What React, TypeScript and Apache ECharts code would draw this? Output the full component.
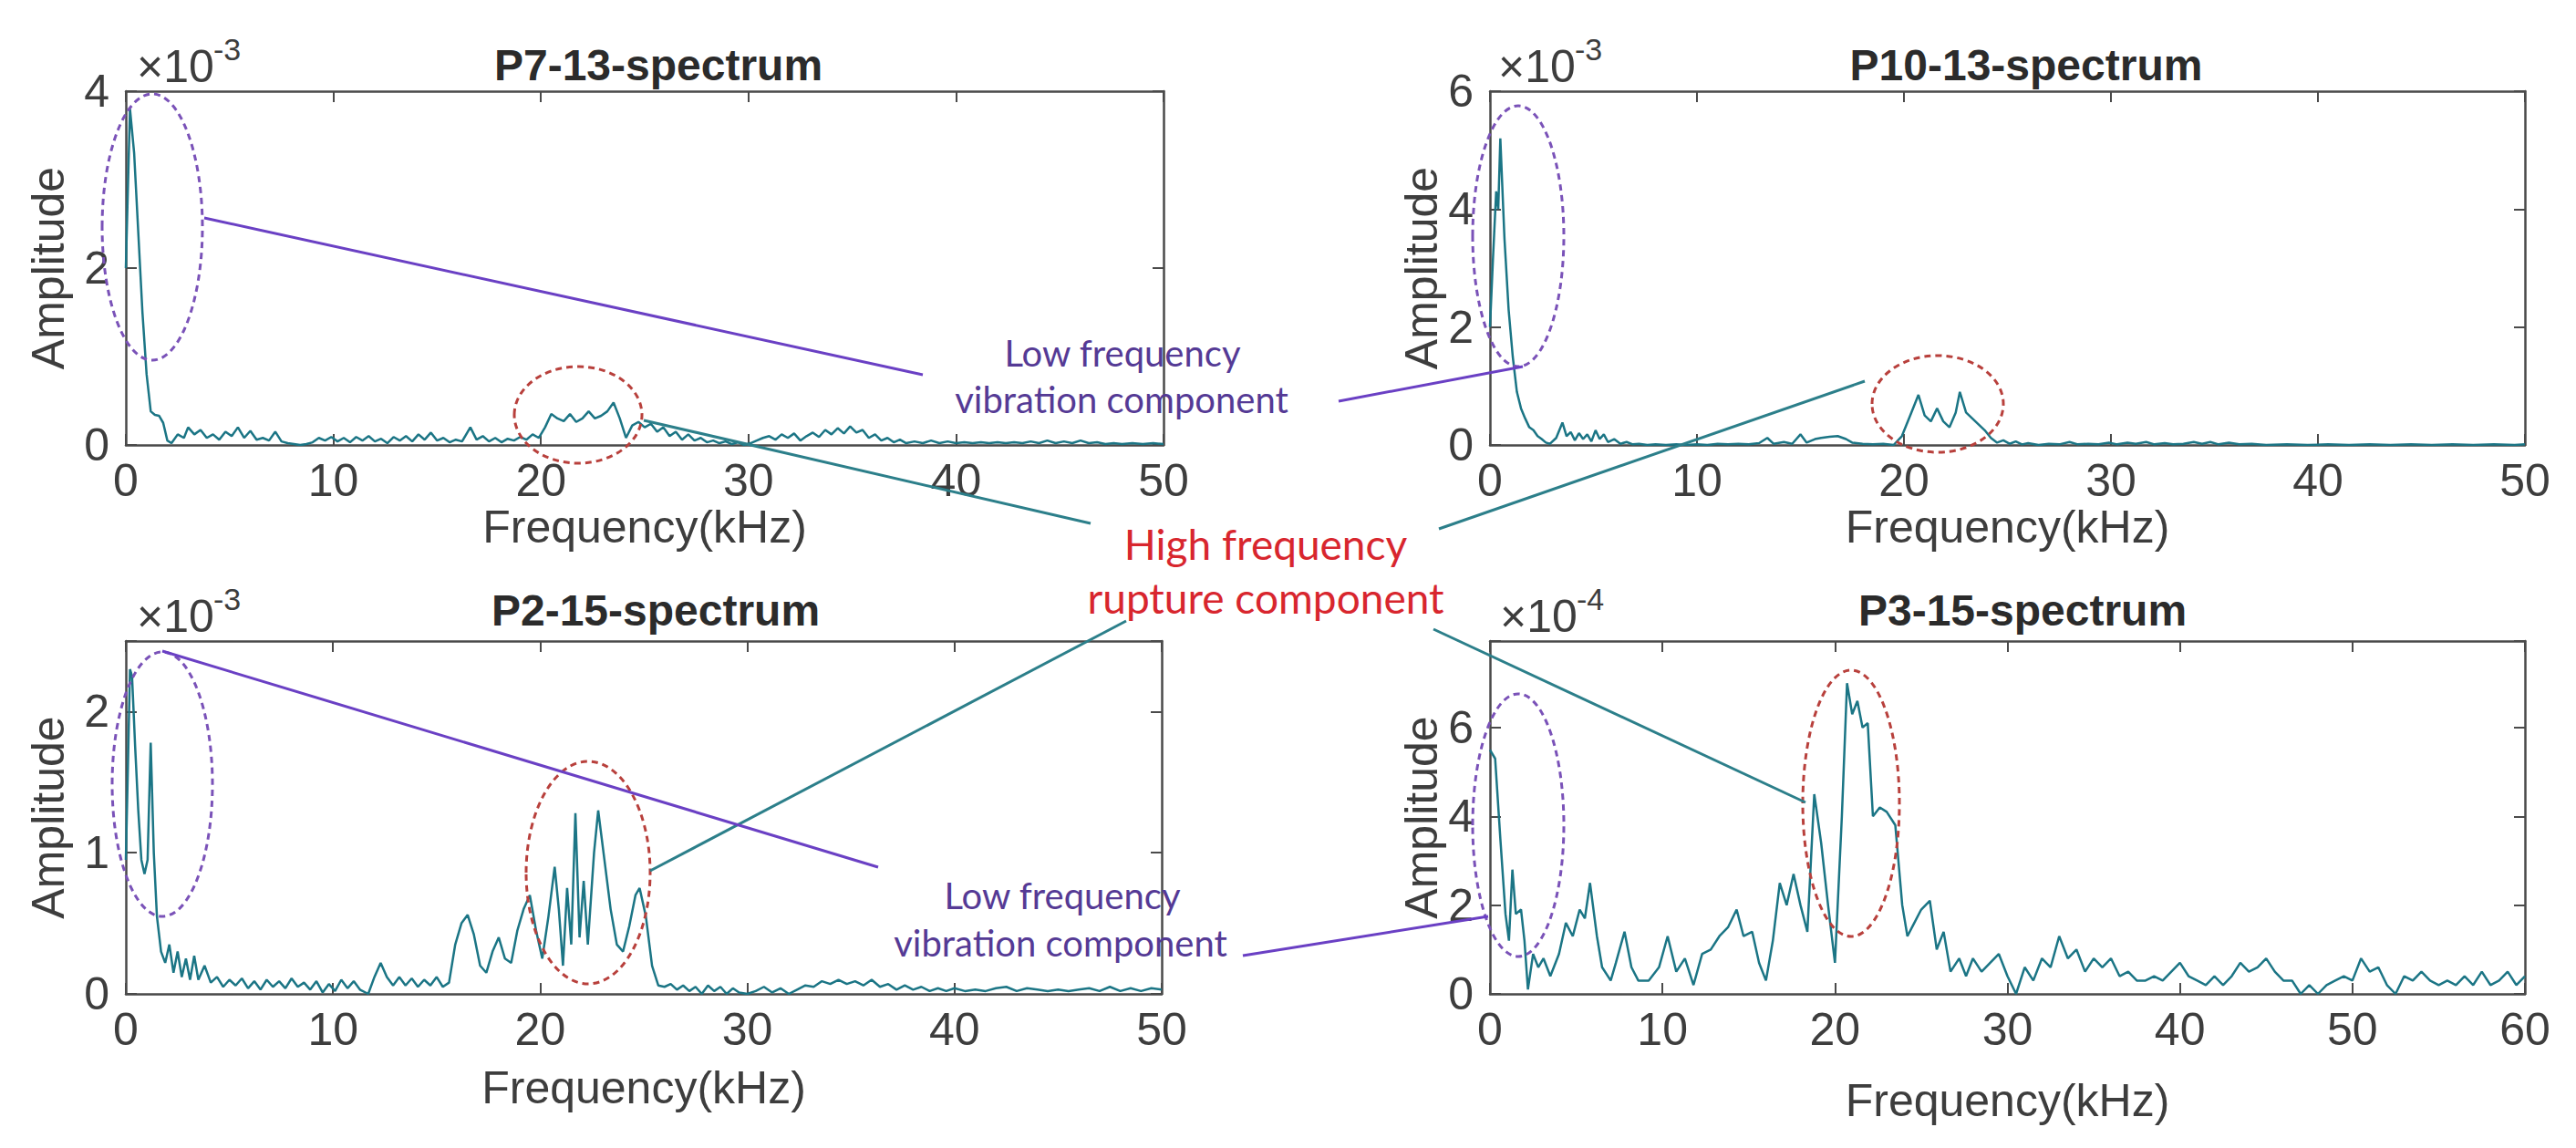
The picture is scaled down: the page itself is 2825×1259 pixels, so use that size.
import React, { useEffect, useRef } from "react";
import * as echarts from "echarts";

// ---------------- data (amplitude values, x = frequency in kHz) ----------------
const titles = ["P7-13-spectrum", "P10-13-spectrum", "P2-15-spectrum", "P3-15-spectrum"];
const exponents = ["-3", "-3", "-3", "-4"];
const xLabel = "Frequency(kHz)";
const yLabel = "Amplitude";
const xMaxes = [50, 50, 50, 60];
const yMaxes = [4, 6, 2.5, 7.95];
const yIntervals = [2, 2, 1, 2];
const lowText = ["Low frequency", "vibration component"];
const highText = ["High frequency", "rupture component"];

// P7-13 (x10^-3)
const p7_13: number[][] = [
  [0, 2.0], [0.2, 3.8], [0.4, 3.3], [0.6, 2.4], [0.8, 1.5], [1.0, 0.8], [1.2, 0.38], [1.4, 0.34], [1.6, 0.33], [1.8, 0.25],
  [2.0, 0.05], [2.2, 0.02], [2.5, 0.12], [2.8, 0.08], [3.0, 0.2], [3.3, 0.12], [3.6, 0.17], [3.9, 0.08], [4.2, 0.12], [4.5, 0.06],
  [4.8, 0.15], [5.1, 0.1], [5.4, 0.2], [5.7, 0.08], [6.0, 0.16], [6.3, 0.06], [6.6, 0.08], [6.9, 0.05], [7.2, 0.15], [7.5, 0.04],
  [7.8, 0.02], [8.1, 0.01], [8.4, 0.0], [8.7, 0.01], [9.0, 0.03], [9.3, 0.08], [9.6, 0.05], [9.9, 0.09], [10.2, 0.04], [10.5, 0.08],
  [10.8, 0.03], [11.1, 0.09], [11.4, 0.05], [11.7, 0.1], [12.0, 0.04], [12.3, 0.07], [12.6, 0.02], [12.9, 0.09], [13.2, 0.05], [13.5, 0.1],
  [13.8, 0.04], [14.1, 0.12], [14.4, 0.06], [14.7, 0.14], [15.0, 0.05], [15.3, 0.08], [15.6, 0.03], [15.9, 0.06], [16.2, 0.04], [16.6, 0.2],
  [16.9, 0.06], [17.2, 0.1], [17.5, 0.04], [17.8, 0.08], [18.1, 0.03], [18.4, 0.07], [18.7, 0.05], [19.0, 0.09], [19.3, 0.06], [19.6, 0.12],
  [19.9, 0.08], [20.2, 0.2], [20.5, 0.35], [20.8, 0.3], [21.1, 0.27], [21.4, 0.35], [21.7, 0.26], [22.0, 0.3], [22.3, 0.38], [22.6, 0.3],
  [22.9, 0.33], [23.2, 0.38], [23.5, 0.48], [23.8, 0.3], [24.1, 0.08], [24.4, 0.22], [24.7, 0.26], [25.0, 0.2], [25.3, 0.24], [25.6, 0.15],
  [25.9, 0.2], [26.2, 0.1], [26.5, 0.15], [26.8, 0.06], [27.1, 0.12], [27.4, 0.05], [27.7, 0.08], [28.0, 0.03], [28.3, 0.05], [28.6, 0.02],
  [28.9, 0.04], [29.2, 0.01], [29.5, 0.03], [29.8, 0.0], [30.1, 0.02], [30.4, 0.05], [30.7, 0.08], [31.0, 0.1], [31.3, 0.06], [31.6, 0.12],
  [31.9, 0.08], [32.2, 0.13], [32.5, 0.05], [32.8, 0.1], [33.1, 0.14], [33.4, 0.09], [33.7, 0.17], [34.0, 0.12], [34.3, 0.19], [34.6, 0.13],
  [34.9, 0.21], [35.2, 0.14], [35.5, 0.17], [35.8, 0.08], [36.1, 0.12], [36.4, 0.05], [36.7, 0.08], [37.0, 0.03], [37.3, 0.06], [37.6, 0.02],
  [38.0, 0.04], [38.4, 0.02], [38.8, 0.05], [39.2, 0.02], [39.6, 0.04], [40.0, 0.02], [40.4, 0.03], [40.8, 0.02], [41.2, 0.03], [41.6, 0.02],
  [42.0, 0.03], [42.4, 0.02], [42.8, 0.03], [43.2, 0.02], [43.6, 0.04], [44.0, 0.02], [44.4, 0.05], [44.8, 0.02], [45.2, 0.04], [45.6, 0.02],
  [46.0, 0.05], [46.4, 0.02], [46.8, 0.03], [47.2, 0.01], [47.6, 0.02], [48.0, 0.01], [48.5, 0.02], [49.0, 0.01], [49.5, 0.02], [50.0, 0.01],
];

// P10-13 (x10^-3)
const p10_13: number[][] = [
  [0, 2.0], [0.15, 3.2], [0.3, 4.3], [0.4, 4.0], [0.5, 5.2], [0.7, 3.5], [0.9, 2.3], [1.1, 1.5], [1.3, 0.9], [1.5, 0.62],
  [1.7, 0.45], [1.9, 0.3], [2.1, 0.25], [2.3, 0.15], [2.5, 0.1], [2.7, 0.04], [2.9, 0.02], [3.2, 0.12], [3.5, 0.38], [3.7, 0.15],
  [3.9, 0.22], [4.1, 0.08], [4.3, 0.2], [4.5, 0.1], [4.7, 0.18], [4.9, 0.06], [5.1, 0.25], [5.3, 0.1], [5.5, 0.18], [5.7, 0.05],
  [6.0, 0.1], [6.3, 0.02], [6.6, 0.05], [6.9, 0.01], [7.2, 0.02], [7.6, 0.0], [8.0, 0.01], [8.5, 0.0], [9.0, 0.01], [9.5, 0.0],
  [10.0, 0.01], [10.5, 0.0], [11.0, 0.02], [11.5, 0.01], [12.0, 0.02], [12.5, 0.01], [13.0, 0.03], [13.4, 0.12], [13.7, 0.02], [14.2, 0.05],
  [14.6, 0.02], [15.0, 0.18], [15.3, 0.04], [15.7, 0.1], [16.0, 0.12], [16.4, 0.14], [16.8, 0.15], [17.2, 0.1], [17.5, 0.04], [18.0, 0.02],
  [18.5, 0.01], [19.0, 0.02], [19.5, 0.0], [19.9, 0.15], [20.3, 0.5], [20.7, 0.85], [21.0, 0.5], [21.3, 0.4], [21.6, 0.62], [21.9, 0.4],
  [22.2, 0.3], [22.5, 0.55], [22.7, 0.9], [23.0, 0.55], [23.3, 0.45], [23.6, 0.35], [23.9, 0.25], [24.2, 0.12], [24.5, 0.04], [24.8, 0.08],
  [25.1, 0.02], [25.4, 0.06], [25.7, 0.01], [26.0, 0.03], [26.5, 0.0], [27.0, 0.02], [27.5, 0.01], [28.0, 0.05], [28.4, 0.01], [28.9, 0.02],
  [29.4, 0.01], [29.9, 0.04], [30.3, 0.01], [30.8, 0.04], [31.2, 0.02], [31.7, 0.05], [32.1, 0.01], [32.6, 0.03], [33.0, 0.01], [33.5, 0.02],
  [34.0, 0.05], [34.4, 0.02], [34.8, 0.05], [35.2, 0.01], [35.7, 0.04], [36.2, 0.01], [36.8, 0.02], [37.5, 0.0], [38.5, 0.01], [39.5, 0.0],
  [40.5, 0.01], [41.5, 0.0], [42.5, 0.01], [43.5, 0.0], [44.5, 0.01], [45.5, 0.0], [46.5, 0.01], [47.5, 0.0], [48.5, 0.01], [49.5, 0.0],
  [50.0, 0.01],
];

// P2-15 (x10^-3)
const p2_15: number[][] = [
  [0, 0.95], [0.1, 1.6], [0.2, 2.3], [0.3, 2.25], [0.45, 1.75], [0.6, 1.3], [0.75, 0.95], [0.9, 0.85], [1.05, 0.95], [1.2, 1.78],
  [1.35, 1.0], [1.5, 0.55], [1.7, 0.3], [1.9, 0.22], [2.1, 0.35], [2.3, 0.15], [2.5, 0.3], [2.7, 0.12], [2.9, 0.25], [3.1, 0.1],
  [3.3, 0.27], [3.5, 0.1], [3.8, 0.2], [4.1, 0.08], [4.4, 0.12], [4.7, 0.05], [5.0, 0.1], [5.3, 0.06], [5.6, 0.11], [5.9, 0.04],
  [6.2, 0.09], [6.5, 0.03], [6.8, 0.1], [7.1, 0.05], [7.4, 0.09], [7.7, 0.04], [8.0, 0.11], [8.3, 0.05], [8.6, 0.08], [8.9, 0.03],
  [9.2, 0.09], [9.5, 0.01], [9.8, 0.07], [10.1, 0.02], [10.4, 0.1], [10.7, 0.04], [11.0, 0.09], [11.3, 0.03], [11.7, 0.0], [12.0, 0.12],
  [12.3, 0.22], [12.6, 0.12], [12.9, 0.06], [13.2, 0.12], [13.5, 0.06], [13.8, 0.11], [14.1, 0.05], [14.4, 0.1], [14.7, 0.06], [15.0, 0.12],
  [15.3, 0.05], [15.6, 0.08], [15.9, 0.35], [16.2, 0.5], [16.5, 0.56], [16.8, 0.42], [17.1, 0.2], [17.4, 0.15], [17.7, 0.3], [18.0, 0.4],
  [18.3, 0.25], [18.6, 0.22], [18.9, 0.45], [19.2, 0.6], [19.5, 0.7], [19.8, 0.45], [20.1, 0.25], [20.4, 0.55], [20.7, 0.9], [20.9, 0.6],
  [21.1, 0.2], [21.3, 0.75], [21.5, 0.35], [21.7, 1.28], [21.9, 0.4], [22.1, 0.8], [22.3, 0.35], [22.6, 1.0], [22.8, 1.3], [23.1, 0.95],
  [23.4, 0.6], [23.7, 0.35], [24.0, 0.3], [24.3, 0.48], [24.6, 0.7], [24.8, 0.75], [25.1, 0.55], [25.4, 0.2], [25.7, 0.06], [26.0, 0.05],
  [26.3, 0.07], [26.6, 0.03], [26.9, 0.06], [27.2, 0.02], [27.5, 0.05], [27.8, 0.0], [28.1, 0.06], [28.4, 0.02], [28.7, 0.05], [29.0, 0.0],
  [29.3, 0.04], [29.6, 0.01], [30.0, 0.0], [30.4, 0.02], [30.8, 0.05], [31.2, 0.01], [31.6, 0.04], [32.0, 0.0], [32.4, 0.03], [32.8, 0.06],
  [33.2, 0.05], [33.6, 0.09], [34.0, 0.07], [34.4, 0.1], [34.8, 0.07], [35.2, 0.09], [35.6, 0.06], [36.0, 0.1], [36.4, 0.05], [36.8, 0.07],
  [37.2, 0.03], [37.6, 0.06], [38.0, 0.03], [38.4, 0.05], [38.8, 0.02], [39.2, 0.04], [39.6, 0.02], [40.0, 0.04], [40.5, 0.02], [41.0, 0.03],
  [41.5, 0.02], [42.0, 0.04], [42.5, 0.05], [43.0, 0.02], [43.5, 0.04], [44.0, 0.03], [44.5, 0.02], [45.0, 0.03], [45.5, 0.02], [46.0, 0.03],
  [46.5, 0.04], [47.0, 0.02], [47.5, 0.05], [48.0, 0.02], [48.5, 0.04], [49.0, 0.02], [49.5, 0.04], [50.0, 0.03],
];

// P3-15 (x10^-4)
const p3_15: number[][] = [
  [0, 5.5], [0.3, 5.3], [0.6, 3.5], [0.9, 1.8], [1.1, 1.2], [1.3, 2.8], [1.5, 1.8], [1.8, 1.9], [2.0, 1.2], [2.2, 0.1],
  [2.5, 0.9], [2.8, 0.6], [3.1, 0.8], [3.5, 0.4], [4.0, 0.9], [4.4, 1.6], [4.8, 1.3], [5.2, 1.9], [5.5, 1.7], [5.8, 2.5],
  [6.2, 1.3], [6.5, 0.6], [7.0, 0.3], [7.3, 0.7], [7.8, 1.4], [8.2, 0.6], [8.6, 0.3], [9.2, 0.3], [9.8, 0.6], [10.3, 1.3],
  [10.8, 0.5], [11.3, 0.8], [11.8, 0.2], [12.3, 0.9], [12.8, 1.0], [13.3, 1.3], [13.8, 1.5], [14.3, 1.9], [14.7, 1.3], [15.2, 1.4],
  [15.6, 0.7], [16.0, 0.3], [16.4, 1.2], [16.8, 2.5], [17.2, 2.0], [17.6, 2.7], [18.0, 2.0], [18.4, 1.4], [18.8, 4.5], [19.2, 3.4],
  [19.6, 2.0], [20.0, 0.7], [20.4, 4.0], [20.7, 7.0], [21.0, 6.3], [21.3, 6.6], [21.6, 6.0], [21.9, 6.1], [22.2, 4.0], [22.6, 4.2],
  [23.0, 4.1], [23.5, 3.8], [23.9, 2.0], [24.2, 1.3], [24.6, 1.6], [25.0, 1.9], [25.5, 2.1], [25.9, 1.0], [26.3, 1.4], [26.7, 0.5],
  [27.2, 0.8], [27.6, 0.4], [28.0, 0.8], [28.5, 0.5], [29.0, 0.7], [29.5, 0.9], [30.0, 0.4], [30.5, 0.0], [31.0, 0.6], [31.5, 0.3],
  [32.0, 0.8], [32.5, 0.6], [33.0, 1.3], [33.5, 0.8], [34.0, 1.0], [34.5, 0.5], [35.0, 0.8], [35.5, 0.6], [36.0, 0.8], [36.5, 0.4],
  [37.0, 0.5], [37.5, 0.3], [38.0, 0.3], [38.5, 0.4], [39.0, 0.3], [39.5, 0.5], [40.0, 0.7], [40.5, 0.4], [41.0, 0.3], [41.5, 0.2],
  [42.0, 0.4], [42.5, 0.2], [43.0, 0.4], [43.5, 0.7], [44.0, 0.5], [44.5, 0.6], [45.0, 0.8], [45.5, 0.5], [46.0, 0.3], [46.5, 0.3],
  [47.0, 0.0], [47.5, 0.2], [48.0, 0.0], [48.5, 0.2], [49.0, 0.3], [49.5, 0.4], [50.0, 0.3], [50.5, 0.8], [51.0, 0.5], [51.5, 0.6],
  [52.0, 0.2], [52.5, 0.0], [53.0, 0.4], [53.5, 0.3], [54.0, 0.5], [54.5, 0.3], [55.0, 0.2], [55.5, 0.3], [56.0, 0.2], [56.5, 0.4],
  [57.0, 0.2], [57.5, 0.5], [58.0, 0.2], [58.5, 0.3], [59.0, 0.5], [59.5, 0.2], [60.0, 0.4],
];

const seriesData = [p7_13, p10_13, p2_15, p3_15];

// ---------------- layout / style ----------------
const FONT = "Liberation Sans, Arial, Helvetica, sans-serif";
const ANNO_FONT = "Lato, 'Open Sans', sans-serif";
const AXIS_COLOR = "#3d3d3d";
const BOX_COLOR = "#4a4a4a";
const LINE_COLOR = "#1b7585";
const PURPLE_LINE = "#6a40c4";
const PURPLE_TEXT = "#553a95";
const PURPLE_DASH = "#7a52b8";
const RED_DASH = "#b8403c";
const RED_TEXT = "#d8262e";
const TEAL_LINE = "#2c7f8a";
const TICK_FS = 50;

const panels = [
  { left: 138, top: 100, width: 1138, height: 388, titleX: 722, titleY: 71, expX: 150, expY: 73, xNameGap: 59, yNameGap: 60 },
  { left: 1634, top: 100, width: 1135, height: 388, titleX: 2222, titleY: 71, expX: 1643, expY: 73, xNameGap: 62, yNameGap: 48 },
  { left: 138, top: 703, width: 1136, height: 387, titleX: 719, titleY: 669, expX: 150, expY: 676, xNameGap: 78, yNameGap: 60 },
  { left: 1634, top: 703, width: 1135, height: 387, titleX: 2218, titleY: 669, expX: 1645, expY: 676, xNameGap: 92, yNameGap: 50 },
];

function intLabel(v: number) {
  return Math.abs(v - Math.round(v)) < 1e-9 ? String(Math.round(v)) : "";
}

function buildOption() {
  const grid: any[] = [];
  const xAxis: any[] = [];
  const yAxis: any[] = [];
  const series: any[] = [];
  const graphic: any[] = [];
  const axisLine = { show: true, onZero: false, lineStyle: { color: BOX_COLOR, width: 2.5 } };
  const axisTick = { show: true, inside: true, length: 12, lineStyle: { color: BOX_COLOR, width: 2 } };

  panels.forEach((p, i) => {
    grid.push({ left: p.left, top: p.top, width: p.width, height: p.height, containLabel: false });
    xAxis.push({
      type: "value", gridIndex: i, min: 0, max: xMaxes[i], interval: 10, position: "bottom",
      axisLine, axisTick, splitLine: { show: false },
      axisLabel: { fontSize: TICK_FS, color: AXIS_COLOR, fontFamily: FONT, margin: 14 },
      name: xLabel, nameLocation: "middle", nameGap: p.xNameGap,
      nameTextStyle: { fontSize: TICK_FS, color: AXIS_COLOR, fontFamily: FONT },
    });
    xAxis.push({
      type: "value", gridIndex: i, min: 0, max: xMaxes[i], interval: 10, position: "top",
      axisLine, axisTick, splitLine: { show: false }, axisLabel: { show: false },
    });
    yAxis.push({
      type: "value", gridIndex: i, min: 0, max: yMaxes[i], interval: yIntervals[i], position: "left",
      axisLine, axisTick, splitLine: { show: false },
      axisLabel: { fontSize: TICK_FS, color: AXIS_COLOR, fontFamily: FONT, margin: 18, formatter: intLabel },
      name: yLabel, nameLocation: "middle", nameGap: p.yNameGap, nameRotate: 90,
      nameTextStyle: { fontSize: TICK_FS, color: AXIS_COLOR, fontFamily: FONT },
    });
    yAxis.push({
      type: "value", gridIndex: i, min: 0, max: yMaxes[i], interval: yIntervals[i], position: "right",
      axisLine, axisTick, splitLine: { show: false }, axisLabel: { show: false },
    });
    series.push({
      type: "line", xAxisIndex: i * 2, yAxisIndex: i * 2, data: seriesData[i],
      showSymbol: false, symbol: "none", clip: true,
      lineStyle: { color: LINE_COLOR, width: 2.5 },
    });
    graphic.push({
      type: "text", x: p.titleX, y: p.titleY, z: 10,
      style: { text: titles[i], fill: "#2b2b2b", fontSize: 48, fontWeight: "bold", fontFamily: FONT,
        textAlign: "center", textVerticalAlign: "middle", align: "center", verticalAlign: "middle" },
    });
    graphic.push({
      type: "text", x: p.expX, y: p.expY, z: 10,
      style: { text: "×10", fill: AXIS_COLOR, fontSize: TICK_FS, fontFamily: FONT,
        textAlign: "left", textVerticalAlign: "middle", align: "left", verticalAlign: "middle" },
    });
    graphic.push({
      type: "text", x: p.expX + 84, y: p.expY - 19, z: 10,
      style: { text: exponents[i], fill: AXIS_COLOR, fontSize: 34, fontFamily: FONT,
        textAlign: "left", textVerticalAlign: "middle", align: "left", verticalAlign: "middle" },
    });
  });

  const ellipse = (cx: number, cy: number, rx: number, ry: number, color: string) => ({
    type: "ellipse", z: 20, shape: { cx, cy, rx, ry },
    style: { fill: "none", stroke: color, lineWidth: 3, lineDash: [7, 5] },
  });
  const line = (x1: number, y1: number, x2: number, y2: number, color: string) => ({
    type: "line", z: 20, shape: { x1, y1, x2, y2 },
    style: { stroke: color, lineWidth: 3 },
  });
  const text = (t: string, x: number, y: number, color: string, size: number) => ({
    type: "text", x, y, z: 21,
    style: { text: t, fill: color, fontSize: size, fontFamily: ANNO_FONT,
      textAlign: "center", textVerticalAlign: "middle", align: "center", verticalAlign: "middle" },
  });

  graphic.push(
    ellipse(167, 249, 55, 146, PURPLE_DASH),
    ellipse(634, 455, 70, 53, RED_DASH),
    ellipse(1665, 259, 50, 143, PURPLE_DASH),
    ellipse(2125, 443, 72, 53, RED_DASH),
    ellipse(178, 860, 55, 145, PURPLE_DASH),
    ellipse(645, 957, 68, 122, RED_DASH),
    ellipse(1665, 905, 50, 144, PURPLE_DASH),
    ellipse(2030, 881, 53, 146, RED_DASH),
    line(224, 239, 1012, 411, PURPLE_LINE),
    line(1468, 440, 1670, 402, PURPLE_LINE),
    line(706, 461, 1196, 574, TEAL_LINE),
    line(1578, 580, 2045, 418, TEAL_LINE),
    line(713, 955, 1235, 681, TEAL_LINE),
    line(1572, 690, 1980, 880, TEAL_LINE),
    line(178, 714, 963, 951, PURPLE_LINE),
    line(1363, 1048, 1632, 1005, PURPLE_LINE),
    text(lowText[0], 1231, 387, PURPLE_TEXT, 40),
    text(lowText[1], 1230, 438, PURPLE_TEXT, 40),
    text(highText[0], 1388, 596, RED_TEXT, 46),
    text(highText[1], 1388, 655, RED_TEXT, 46),
    text(lowText[0], 1165, 982, PURPLE_TEXT, 40),
    text(lowText[1], 1163, 1034, PURPLE_TEXT, 40),
  );

  return { animation: false, backgroundColor: "#ffffff", grid, xAxis, yAxis, series, graphic };
}

export default function App() {
  const ref = useRef<HTMLDivElement>(null);
  useEffect(() => {
    if (!ref.current) return;
    const chart = echarts.init(ref.current, undefined, { renderer: "svg" });
    chart.setOption(buildOption() as any);
    return () => chart.dispose();
  }, []);
  return (
    <div
      ref={ref}
      style={{ position: "fixed", left: 0, top: 0, width: 2825, height: 1259, background: "#fff" }}
    />
  );
}
